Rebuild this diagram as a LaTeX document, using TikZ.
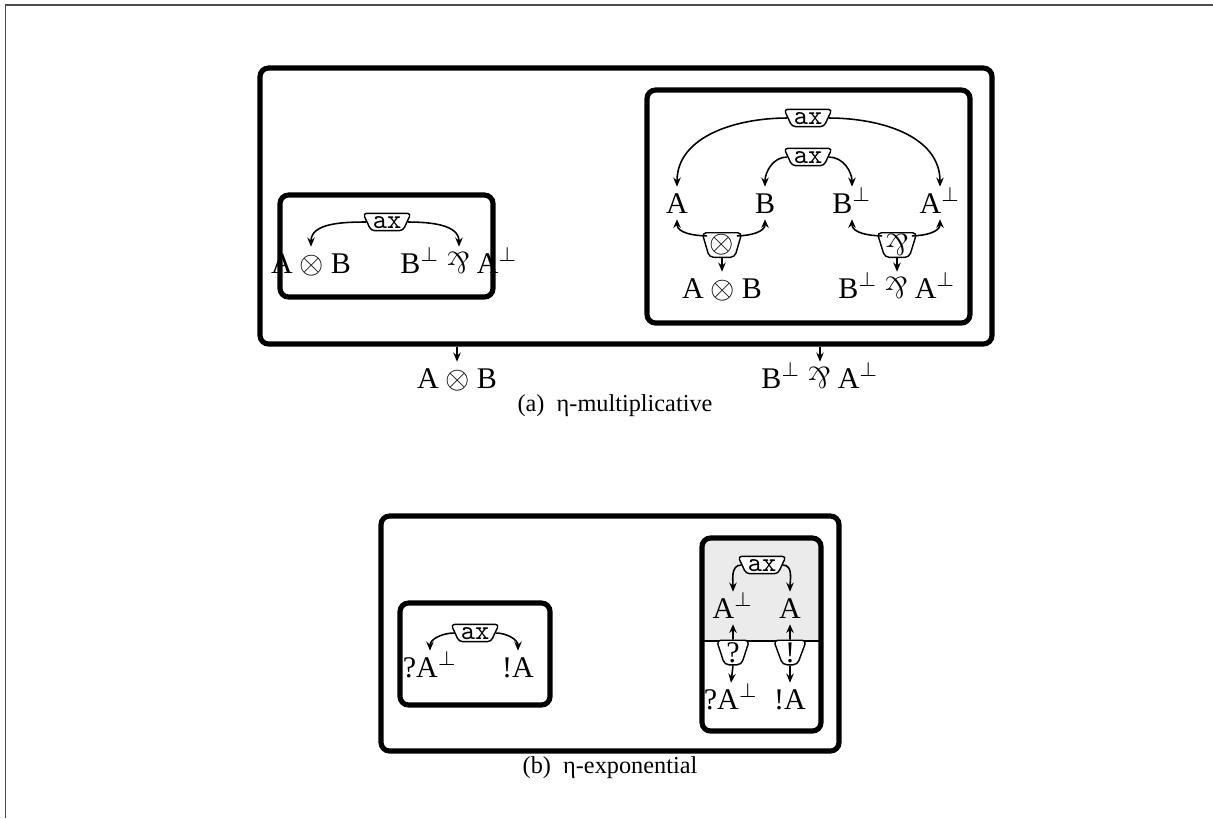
\documentclass[tikz,border=0pt]{standalone}
\usepackage{fontspec}
\setmainfont{Liberation Serif}
\usepackage{graphicx}
\usetikzlibrary{shapes.geometric,arrows.meta,calc}
\newcommand{\mparr}{\mathbin{\rotatebox[origin=c]{180}{\fontfamily{lmr}\selectfont\&}}}
\begin{document}
\begin{tikzpicture}[x=0.35pt,y=0.35pt,
 box/.style={draw, line width=1.8pt, rounded corners=3pt, inner sep=0pt},
 axn/.style={draw, line width=0.5pt, trapezium, shape border rotate=180, trapezium left angle=65, trapezium right angle=65, rounded corners=1.2pt, font=\ttfamily\fontsize{9.5}{9.5}\selectfont, inner sep=0.6pt, text height=4.6pt, text depth=0.2pt, fill=white},
 conn/.style={draw, line width=0.5pt, trapezium, shape border rotate=180, trapezium left angle=72, trapezium right angle=72, rounded corners=1.5pt, inner sep=0.2pt, minimum width=11.5pt, minimum height=8.6pt, trapezium stretches, fill=white, font=\fontsize{10.5}{10.5}\selectfont},
 lab/.style={inner sep=2pt, font=\fontsize{10.5}{12}\selectfont, text height=7pt, text depth=0pt},
 captxt/.style={inner sep=1pt, font=\fontsize{8.5}{10}\selectfont},
 arr/.style={-{Stealth[length=3.2pt,width=2.6pt]}, line width=0.55pt},
 tl/.style={{Stealth[length=3pt,width=2.6pt]}-, line width=0.55pt}
]
\useasboundingbox (0,0) rectangle (1213,-818);
\draw[black!70, line width=0.6pt] (5.5,-818) -- (5.5,-5) -- (1213,-5);

% ---------- (a) ----------
\node[box, minimum width=256.2pt, minimum height=96.6pt] (oA) at (626,-206) {};
\node[box, minimum width=74.55pt, minimum height=35.7pt] (iAL) at (386.5,-246) {};
\node[box, minimum width=113.05pt, minimum height=81.55pt] (iAR) at (808.5,-206.5) {};

\node[axn] (ax0) at (387,-222) {ax};
\node[lab] (l1) at (311,-263) {$\mathrm{A}\otimes\mathrm{B}$};
\node[lab] (l2) at (459,-263) {$\mathrm{B}^{\perp}\mparr\mathrm{A}^{\perp}$};
\draw[arr] (ax0.west) to[out=180,in=90] (l1.north);
\draw[arr] (ax0.east) to[out=0,in=90] (l2.north);

\node[axn] (ax1) at (808,-118) {ax};
\node[axn] (ax2) at (808,-157) {ax};
\node[lab] (a) at (677,-203) {$\mathrm{A}$};
\node[lab] (b) at (765,-203) {$\mathrm{B}$};
\node[lab] (bp) at (852,-203) {$\mathrm{B}^{\perp}$};
\node[lab] (ap) at (940,-203) {$\mathrm{A}^{\perp}$};
\node[conn] (t) at (722,-245) {$\otimes$};
\node[conn] (p) at (897,-245) {$\mparr$};
\node[lab] (ab) at (722,-288) {$\mathrm{A}\otimes\mathrm{B}$};
\node[lab] (bpap) at (897,-288) {$\mathrm{B}^{\perp}\mparr\mathrm{A}^{\perp}$};
\draw[arr] (ax1.west) to[out=180,in=90] (a.north);
\draw[arr] (ax1.east) to[out=0,in=90] (ap.north);
\draw[arr] (ax2.west) to[out=180,in=90] (b.north);
\draw[arr] (ax2.east) to[out=0,in=90] (bp.north);
\draw[tl] (a.south) to[out=-90,in=180] ($(t.center)+(-5.2pt,3.2pt)$);
\draw[tl] (b.south) to[out=-90,in=0] ($(t.center)+(5.2pt,3.2pt)$);
\draw[tl] (bp.south) to[out=-90,in=180] ($(p.center)+(-5.2pt,3.2pt)$);
\draw[tl] (ap.south) to[out=-90,in=0] ($(p.center)+(5.2pt,3.2pt)$);
\draw[arr] (t.south) -- (ab.north);
\draw[arr] (p.south) -- (bpap.north);

\node[lab] (bl1) at (457,-378) {$\mathrm{A}\otimes\mathrm{B}$};
\node[lab] (bl2) at (820,-378) {$\mathrm{B}^{\perp}\mparr\mathrm{A}^{\perp}$};
\draw[arr] (oA.south -| bl1) -- (bl1.north);
\draw[arr] (oA.south -| bl2) -- (bl2.north);
\node[captxt] (capA) at (615,-406) {(a)\enspace η-multiplicative};

% ---------- (b) ----------
\node[box, minimum width=160.3pt, minimum height=82.25pt] (oB) at (610,-633.5) {};
\node[box, minimum width=52.5pt, minimum height=35.7pt] (iBL) at (475,-654) {};
\begin{scope}
\clip[rounded corners=3pt] (702,-538) rectangle (821,-731);
\fill[black!8] (702,-538) rectangle (821,-641);
\end{scope}
\draw[line width=0.6pt] (702,-641) -- (821,-641);
\node[box, minimum width=41.65pt, minimum height=67.55pt] (iBR) at (761.5,-634.5) {};

\node[axn] (bx0) at (475,-633) {ax};
\node[lab] (q1) at (430,-667) {?$\mathrm{A}^{\perp}$};
\node[lab] (e1) at (518,-667) {!A};
\draw[arr] (bx0.west) to[out=180,in=90] (q1.north);
\draw[arr] (bx0.east) to[out=0,in=90] (e1.north);

\node[axn] (bx1) at (762,-565) {ax};
\node[lab] (bap) at (733,-608) {$\mathrm{A}^{\perp}$};
\node[lab] (ba) at (790,-608) {$\mathrm{A}$};
\node[conn] (qn) at (733,-652.5) {?};
\node[conn] (en) at (790,-652.5) {!};
\node[lab] (q2) at (731,-699) {?$\mathrm{A}^{\perp}$};
\node[lab] (e2) at (790,-699) {!A};
\draw[arr] (bx1.west) to[out=180,in=90] (bap.north);
\draw[arr] (bx1.east) to[out=0,in=90] (ba.north);
\draw[tl] (bap.south) -- (qn.north);
\draw[tl] (ba.south) -- (en.north);
\draw[arr] (qn.south) -- (q2.north);
\draw[arr] (en.south) -- (e2.north);
\node[captxt] (capB) at (610,-768) {(b)\enspace η-exponential};
\end{tikzpicture}
\end{document}
